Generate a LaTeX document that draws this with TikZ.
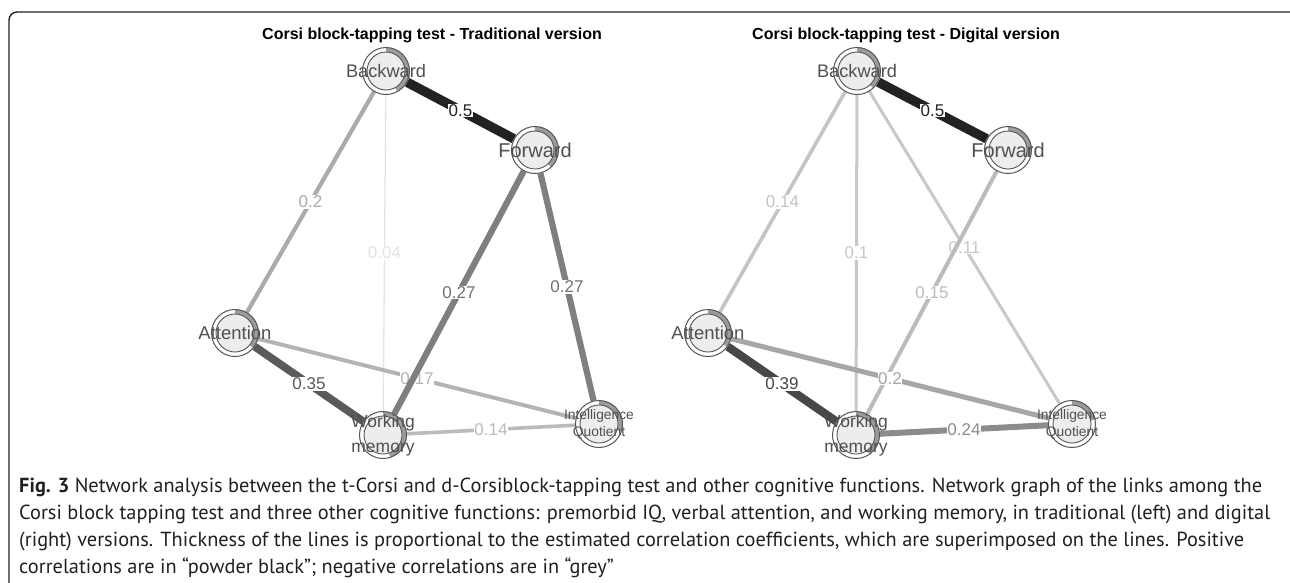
\documentclass[tikz,border=0pt]{standalone}
\usepackage{fontspec}
\setmainfont{Liberation Sans}
\newfontfamily\capfont{PT Sans}

\pgfdeclarelayer{edgelayer}
\pgfsetlayers{edgelayer,main}

\definecolor{nodefill}{HTML}{EDEDED}
\definecolor{ringline}{HTML}{555555}
\definecolor{piegrey}{HTML}{9C9C9C}
\definecolor{labtext}{HTML}{505050}
\definecolor{frameline}{HTML}{222222}
\definecolor{captext}{HTML}{231F20}
% edge shades, strongest to weakest
\definecolor{eA}{HTML}{222222}
\definecolor{eB}{HTML}{474747}
\definecolor{eC}{HTML}{5A5A5A}
\definecolor{eD}{HTML}{7F7F7F}
\definecolor{eE}{HTML}{8C8C8C}
\definecolor{eF}{HTML}{A6A6A6}
\definecolor{eG}{HTML}{ABABAB}
\definecolor{eH}{HTML}{B4B4B4}
\definecolor{eI}{HTML}{BBBBBB}
\definecolor{eJ}{HTML}{C4C4C4}
\definecolor{eK}{HTML}{C8C8C8}
\definecolor{eL}{HTML}{E4E4E4}

% caption lines
\newcommand\capone{\textbf{Fig. 3} Network analysis between the t-Corsi and d-Corsiblock-tapping test and other cognitive functions. Network graph of the links among the}
\newcommand\captwo{Corsi block tapping test and three other cognitive functions: premorbid IQ, verbal attention, and working memory, in traditional (left) and digital}
\newcommand\capthree{(right) versions. Thickness of the lines is proportional to the estimated correlation coefficients, which are superimposed on the lines. Positive}
\newcommand\capfour{correlations are in “powder black”; negative correlations are in “grey”}

% caption size chosen so that the first line is 1243pt long
\newlength\caplinewd
\settowidth{\caplinewd}{\capfont\fontsize{20}{20}\selectfont\capone}
\pgfmathsetmacro\capsize{1243/\caplinewd*20}

\tikzset{
  pienode/.style={circle, draw=ringline, line width=1pt, fill=white,
    minimum size=47pt, inner sep=0pt,
    path picture={
      \fill[piegrey] (path picture bounding box.center) -- ++(90:25pt)
        arc[start angle=90, delta angle={-360*#1}, radius=25pt] -- cycle;
      \draw[ringline, line width=0.9pt, fill=nodefill]
        (path picture bounding box.center) circle[radius=19pt];
    }},
  nodetext/.style={text=labtext, align=center, font=\fontsize{#1}{#1}\selectfont},
  twoline/.style={text=labtext, align=center, font=\fontsize{#1}{25}\selectfont},
  twosmall/.style={text=labtext, align=center, font=\fontsize{#1}{17}\selectfont},
  elab/.style={fill=white, inner sep=0.6pt, font=\fontsize{17}{17}\selectfont},
  titletext/.style={font=\bfseries\fontsize{16}{16}\selectfont, text=black},
  captionline/.style={anchor=base west, inner sep=0pt, text=captext,
    font=\capfont\fontsize{\capsize}{\capsize}\selectfont},
}

\begin{document}
\begin{tikzpicture}[x=1pt, y=-1pt]
\useasboundingbox (0,0) rectangle (1290,582);

% open frame around the figure
\draw[frameline, line width=1.4pt, rounded corners=8pt]
  (9,620) -- (9,12) -- (1298,12) -- (1298,620);

% titles
\node[titletext] (t1) at (432,35) {Corsi block-tapping test - Traditional version};
\node[titletext] (t2) at (906,35) {Corsi block-tapping test - Digital version};

% traditional version nodes
\node[pienode=0.42, label={[nodetext=18.2]center:Backward}] (lB) at (386,71) {};
\node[pienode=0.38, label={[nodetext=20]center:Forward}] (lF) at (535,150) {};
\node[pienode=0.36, label={[nodetext=18.5]center:Attention}] (lA) at (235,333) {};
\node[pienode=0.45, label={[twoline=17.5]center:{Working\\memory}}] (lW) at (383,435) {};
\node[pienode=0.30, label={[twosmall=13.8]center:{Intelligence\\Quotient}}] (lQ) at (599,424) {};

% digital version nodes
\node[pienode=0.38, label={[nodetext=18.2]center:Backward}] (rB) at (857,71) {};
\node[pienode=0.30, label={[nodetext=20]center:Forward}] (rF) at (1008,150) {};
\node[pienode=0.35, label={[nodetext=18.5]center:Attention}] (rA) at (708,333) {};
\node[pienode=0.40, label={[twoline=17.5]center:{Working\\memory}}] (rW) at (856,435) {};
\node[pienode=0.22, label={[twosmall=13.8]center:{Intelligence\\Quotient}}] (rQ) at (1072,424) {};

\begin{pgfonlayer}{edgelayer}
% traditional version edges
\draw[eL, line width=1.3pt] (lB) -- node[elab, text=eL] {0.04} (lW);
\draw[eG, line width=4.2pt] (lB) -- node[elab, text=eG] {0.2} (lA);
\draw[eH, line width=4pt] (lA) -- node[elab, text=eH] {0.17} (lQ);
\draw[eI, line width=3.6pt] (lW) -- node[elab, text=eI] {0.14} (lQ);
\draw[eD, line width=6.2pt] (lF) -- node[elab, text=eD!90!black] {0.27} (lW);
\draw[eD, line width=6.2pt] (lF) -- node[elab, text=eD!90!black] {0.27} (lQ);
\draw[eC, line width=7.8pt] (lA) -- node[elab, text=eC] {0.35} (lW);
\draw[eA, line width=9.5pt] (lB) -- node[elab, text=eA] {0.5} (lF);

% digital version edges
\draw[eK, line width=3pt] (rB) -- node[elab, text=eK] {0.1} (rW);
\draw[eK, line width=3pt] (rB) -- node[elab, text=eK] {0.11} (rQ);
\draw[eJ, line width=3.6pt] (rB) -- node[elab, text=eJ] {0.14} (rA);
\draw[eI, line width=4pt] (rF) -- node[elab, text=eI] {0.15} (rW);
\draw[eF, line width=5pt] (rA) -- node[elab, text=eF] {0.2} (rQ);
\draw[eE, line width=6pt] (rW) -- node[elab, text=eE] {0.24} (rQ);
\draw[eB, line width=8.3pt] (rA) -- node[elab, text=eB] {0.39} (rW);
\draw[eA, line width=9.5pt] (rB) -- node[elab, text=eA] {0.5} (rF);
\end{pgfonlayer}

% caption
\node[captionline] (c1) at (19,492) {\capone};
\node[captionline] (c2) at (19,519) {\captwo};
\node[captionline] (c3) at (19,546) {\capthree};
\node[captionline] (c4) at (19,573) {\capfour};
\end{tikzpicture}
\end{document}
